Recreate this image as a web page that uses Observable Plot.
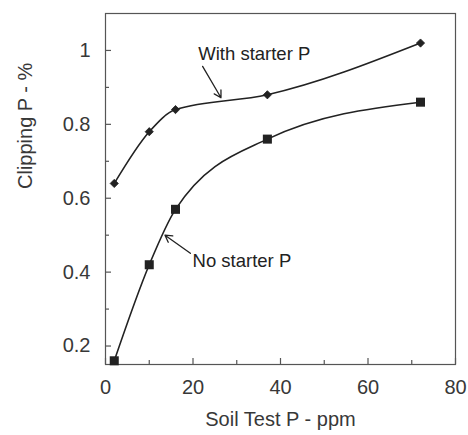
<!DOCTYPE html>
<html><head><meta charset="utf-8">
<script src="https://cdn.jsdelivr.net/npm/d3@7"></script>
<script src="https://cdn.jsdelivr.net/npm/@observablehq/plot@0.6"></script>
<style>
body{margin:0;background:#fff}
#chart svg{font-family:"Liberation Sans",Arial,sans-serif;background:#fff}
</style>
</head><body><div id="chart"></div>
<script>
// Data
const soilTestP = [2, 10, 16, 37, 72];
const withStarterP = [0.64, 0.78, 0.84, 0.88, 1.02];
const noStarterP = [0.16, 0.42, 0.57, 0.76, 0.86];

const xTicks = [0, 20, 40, 60, 80];
const xMinorTicks = [10, 30, 50, 70];
const yTicks = [0.2, 0.4, 0.6, 0.8, 1];
const yMinorTicks = [0.3, 0.5, 0.7, 0.9];

const xLabel = "Soil Test P - ppm";
const yLabel = "Clipping P - %";

// Annotations (data coordinates)
const noteText = ["With starter P", "No starter P"];
const noteX = [21.2, 19.9];
const noteY = [0.99, 0.43];
const arrowFromX = [22.2, 19.4];
const arrowFromY = [0.957, 0.451];
const arrowToX = [26.4, 13.6];
const arrowToY = [0.872, 0.5];

const withData = soilTestP.map((x, i) => ({x, y: withStarterP[i]}));
const noData = soilTestP.map((x, i) => ({x, y: noStarterP[i]}));
const notes = noteText.map((t, i) => ({t, x: noteX[i], y: noteY[i]}));
const arrows = noteText.map((t, i) => ({x1: arrowFromX[i], y1: arrowFromY[i], x2: arrowToX[i], y2: arrowToY[i]}));

const ink = "#222";
const axisInk = "#555";
const fmt = d => String(d);
const W = 468, H = 435, ML = 105, MR = 13, MT = 13, MB = 71;
const frameW = W - ML - MR, frameH = H - MT - MB;
const major = 6, minor = 4;

const chart = Plot.plot({
  width: W,
  height: H,
  marginLeft: ML,
  marginRight: MR,
  marginTop: MT,
  marginBottom: MB,
  style: {fontFamily: "'Liberation Sans', Arial, sans-serif", background: "#fff"},
  x: {domain: [0, 80]},
  y: {domain: [0.15, 1.1]},
  marks: [
    Plot.frame({stroke: axisInk, strokeWidth: 1.2}),
    // inward tick marks
    Plot.tickX(xTicks, {x: d => d, insetTop: frameH - major, stroke: axisInk, strokeWidth: 1.2}),
    Plot.tickX(xMinorTicks, {x: d => d, insetTop: frameH - minor, stroke: axisInk, strokeWidth: 1.2}),
    Plot.tickY(yTicks, {y: d => d, insetRight: frameW - major, stroke: axisInk, strokeWidth: 1.2}),
    Plot.tickY(yMinorTicks, {y: d => d, insetRight: frameW - minor, stroke: axisInk, strokeWidth: 1.2}),
    // tick labels
    Plot.axisX(xTicks, {tickSize: 0, tickPadding: 15, tickFormat: fmt, fontSize: 20, fill: "#383838", label: null}),
    Plot.axisY(yTicks, {tickSize: 0, tickPadding: 15, tickFormat: fmt, fontSize: 20, fill: "#383838", label: null}),
    Plot.text([xLabel], {frameAnchor: "bottom", dy: 55, fontSize: 20, fill: "#383838", lineAnchor: "middle"}),
    Plot.text([yLabel], {frameAnchor: "left", dx: -80, rotate: -90, fontSize: 20, fill: "#383838", lineAnchor: "middle"}),
    Plot.line(withData, {x: "x", y: "y", curve: "monotone-x", stroke: ink, strokeWidth: 1.6}),
    Plot.line(noData, {x: "x", y: "y", curve: "monotone-x", stroke: ink, strokeWidth: 1.6}),
    Plot.dot(withData, {x: "x", y: "y", symbol: "diamond2", r: 3.7, fill: ink, stroke: ink, strokeWidth: 0.8}),
    Plot.dot(noData, {x: "x", y: "y", symbol: "square", r: 5.1, fill: ink}),
    Plot.arrow(arrows, {x1: "x1", y1: "y1", x2: "x2", y2: "y2", stroke: ink, strokeWidth: 1.3, headLength: 9}),
    Plot.text(notes, {x: "x", y: "y", text: "t", textAnchor: "start", fontSize: 18.5, fill: "#222"})
  ]
});
document.getElementById("chart").append(chart);
</script>
</body></html>
